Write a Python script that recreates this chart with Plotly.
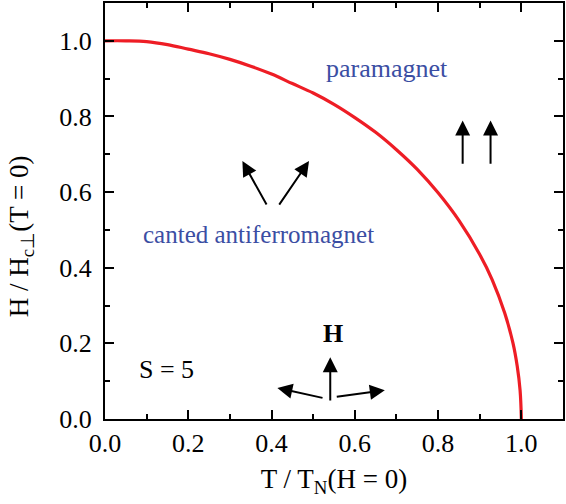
import plotly.graph_objects as go

# Phase boundary H/Hc(T=0) versus T/TN(H=0)
T_vals = [0.0, 0.05, 0.1, 0.15, 0.2, 0.25, 0.3, 0.35, 0.4, 0.45, 0.5, 0.55, 0.6,
          0.65, 0.7, 0.75, 0.8, 0.85, 0.9, 0.93, 0.96, 0.98, 0.99, 0.997, 1.0]
H_vals = [1.0, 1.0, 0.998, 0.990, 0.978, 0.966, 0.951, 0.933, 0.912, 0.887, 0.862,
          0.832, 0.797, 0.758, 0.712, 0.660, 0.598, 0.525, 0.435, 0.368, 0.280,
          0.200, 0.140, 0.075, 0.0]

x_ticks = [0.0, 0.2, 0.4, 0.6, 0.8, 1.0]
y_ticks = [0.0, 0.2, 0.4, 0.6, 0.8, 1.0]

# region labels: (text, x, y, color, bold, size)
labels = [
    ("paramagnet", 0.678, 0.928, "#3b4ea3", False, 26),
    ("canted antiferromagnet", 0.368, 0.487, "#3b4ea3", False, 25),
    ("S = 5", 0.148, 0.132, "black", False, 26),
    ("H", 0.548, 0.226, "black", True, 26),
]

# spin arrows: (tail_x, tail_y, tip_x, tip_y)
arrows = [
    (0.390, 0.563, 0.330, 0.682),
    (0.416, 0.563, 0.490, 0.682),
    (0.859, 0.671, 0.859, 0.789),
    (0.926, 0.671, 0.926, 0.789),
    (0.541, 0.045, 0.541, 0.163),
    (0.526, 0.055, 0.414, 0.082),
    (0.553, 0.058, 0.672, 0.076),
]

FONT = "Liberation Serif"

fig = go.Figure()
fig.add_trace(go.Scatter(x=T_vals, y=H_vals, mode="lines",
                         line=dict(color="#ee1d25", width=3.2, shape="spline"),
                         showlegend=False, hoverinfo="skip"))

for text, x, y, color, bold, size in labels:
    fig.add_annotation(x=x, y=y, xref="x", yref="y",
                       text=f"<b>{text}</b>" if bold else text,
                       showarrow=False,
                       font=dict(family=FONT, size=size, color=color))

for tx, ty, hx, hy in arrows:
    fig.add_annotation(x=hx, y=hy, ax=tx, ay=ty, xref="x", yref="y",
                       axref="x", ayref="y", text="", showarrow=True,
                       arrowhead=2, arrowsize=1.5, arrowwidth=2,
                       arrowcolor="black", standoff=0, startstandoff=0)

# y-axis title as rotated annotation
fig.add_annotation(x=-0.183, y=0.44, xref="paper", yref="paper",
                   text="H / H<sub>c⊥</sub>(T = 0)", textangle=-90,
                   showarrow=False, xanchor="center", yanchor="middle",
                   font=dict(family=FONT, size=27, color="black"))

axis_common = dict(
    showline=True, linecolor="black", linewidth=2, mirror="ticks",
    ticks="inside", ticklen=9, tickwidth=1.5, tickcolor="black",
    showgrid=False, zeroline=False,
    tickfont=dict(family=FONT, size=26, color="black"),
    minor=dict(ticks="inside", ticklen=5, tickwidth=1.5, tickcolor="black",
               dtick=0.1, showgrid=False),
)

fig.update_xaxes(range=[0, 1.1], tickvals=x_ticks,
                 ticktext=[f"{v:.1f}" for v in x_ticks],
                 title=dict(text="T / T<sub>N</sub>(H = 0)",
                            font=dict(family=FONT, size=27, color="black"),
                            standoff=12),
                 **axis_common)
fig.update_yaxes(range=[0, 1.1], tickvals=y_ticks,
                 ticktext=[f"{v:.1f}" for v in y_ticks],
                 ticklabelstandoff=6,
                 **axis_common)

fig.update_layout(width=566, height=504,
                  margin=dict(l=105, r=3, t=1, b=85),
                  paper_bgcolor="white", plot_bgcolor="white",
                  font=dict(family=FONT, color="black"))

fig.write_html("out.html")
